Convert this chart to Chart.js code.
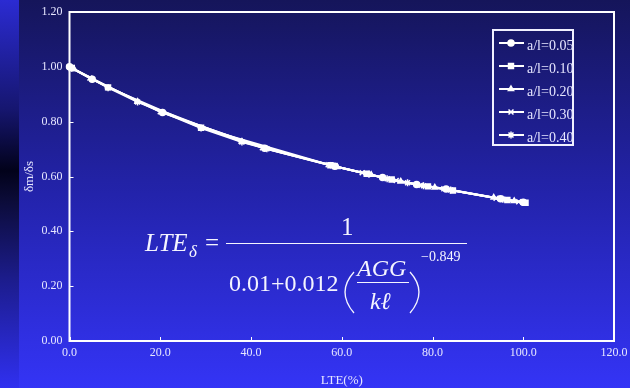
<!DOCTYPE html>
<html>
<head>
<meta charset="utf-8">
<script src="https://cdn.jsdelivr.net/npm/chart.js@4"></script>
<style>
  html, body { margin: 0; padding: 0; }
  body {
    width: 630px; height: 388px; overflow: hidden; position: relative;
    background: linear-gradient(to bottom, #15155a 0%, #2323ab 50%, #3434f6 100%);
  }
  #strip {
    position: absolute; left: 0; top: 0; width: 19px; height: 388px;
    background: linear-gradient(to bottom, #2b2bd2 0%, #161670 28%, #02021a 44%, #0c0c3a 52%, #1c1c8c 72%, #3030f0 100%);
  }
  #wrap { position: absolute; left: 0; top: 0; width: 630px; height: 388px; }
</style>
</head>
<body>
<div id="strip"></div>
<div id="wrap"><canvas id="chart" width="630" height="388"></canvas></div>
<script>
// LTE (%) and deflection ratio, one pair of arrays per a/l
const lte005 = [0.0, 5.0, 20.5, 43.0, 58.5, 69.0, 76.5, 83.0, 95.0, 100.0];
const ratio005 = [1.000, 0.955, 0.833, 0.703, 0.637, 0.596, 0.571, 0.554, 0.519, 0.506];
const lte010 = [0.5, 8.5, 29.0, 57.5, 65.5, 71.0, 79.0, 84.5, 96.5, 100.5];
const ratio010 = [0.996, 0.925, 0.778, 0.641, 0.610, 0.589, 0.564, 0.549, 0.514, 0.504];
const lte020 = [1.0, 15.0, 38.0, 59.0, 66.5, 73.0, 80.5, 93.5, 98.0];
const ratio020 = [0.992, 0.873, 0.727, 0.635, 0.606, 0.582, 0.560, 0.523, 0.511];
const lte030 = [0.0, 4.5, 20.0, 42.5, 57.0, 64.5, 72.0, 77.5, 82.5, 94.0, 99.0];
const ratio030 = [1.000, 0.959, 0.836, 0.705, 0.643, 0.614, 0.585, 0.568, 0.555, 0.521, 0.508];
const lte040 = [0.5, 8.5, 15.0, 29.0, 38.0, 43.5, 58.0, 66.0, 70.0, 74.5, 78.0, 84.0, 95.5, 100.0];
const ratio040 = [0.995, 0.924, 0.872, 0.777, 0.726, 0.701, 0.639, 0.608, 0.592, 0.577, 0.566, 0.551, 0.517, 0.505];

const seriesLabels = ['a/l=0.05', 'a/l=0.10', 'a/l=0.20', 'a/l=0.30', 'a/l=0.40'];
const seriesStyles = ['circle', 'rect', 'triangle', 'crossRot', 'star'];
const xTicks = [0, 20, 40, 60, 80, 100, 120];
const yTicks = [0, 0.2, 0.4, 0.6, 0.8, 1.0, 1.2];

const lteSets = [lte005, lte010, lte020, lte030, lte040];
const ratioSets = [ratio005, ratio010, ratio020, ratio030, ratio040];

const WHITE = '#ffffff';
const TEXT = '#e6e6ff';
const SERIF = '"Liberation Serif", "Times New Roman", serif';

const datasets = seriesLabels.map((label, i) => ({
  label: label,
  data: lteSets[i].map((x, j) => ({ x: x, y: ratioSets[i][j] })),
  showLine: true,
  borderColor: WHITE,
  backgroundColor: WHITE,
  borderWidth: 2,
  pointStyle: seriesStyles[i],
  pointRadius: seriesStyles[i] === 'circle' || seriesStyles[i] === 'triangle' ? 3 : 3.5,
  pointBorderWidth: 1.5,
  pointBackgroundColor: WHITE,
  pointBorderColor: WHITE,
  tension: 0,
  clip: false
}));

// frame + inward tick marks
const frame = {
  id: 'frame',
  afterDraw(chart) {
    const { ctx, chartArea: a, scales } = chart;
    ctx.save();
    ctx.strokeStyle = WHITE;
    ctx.lineWidth = 2;
    ctx.strokeRect(a.left, a.top, a.right - a.left, a.bottom - a.top);
    ctx.lineWidth = 1;
    ctx.beginPath();
    yTicks.forEach(v => {
      const y = Math.round(scales.y.getPixelForValue(v)) + 0.5;
      ctx.moveTo(a.left, y); ctx.lineTo(a.left + 4, y);
    });
    xTicks.forEach(v => {
      const x = Math.round(scales.x.getPixelForValue(v)) + 0.5;
      ctx.moveTo(x, a.bottom); ctx.lineTo(x, a.bottom - 4);
    });
    ctx.stroke();
    ctx.restore();
  }
};

// boxed legend inside the plot, top right
const boxLegend = {
  id: 'boxLegend',
  afterDraw(chart) {
    const { ctx } = chart;
    ctx.save();
    ctx.strokeStyle = '#f0f0ff';
    ctx.lineWidth = 2;
    ctx.strokeRect(493, 30, 80, 115);
    chart.data.datasets.forEach((ds, i) => {
      const y = 43 + i * 23;
      ctx.strokeStyle = WHITE;
      ctx.lineWidth = 2;
      ctx.beginPath();
      ctx.moveTo(499, y); ctx.lineTo(524, y);
      ctx.stroke();
      ctx.fillStyle = WHITE;
      ctx.lineWidth = 1.5;
      Chart.helpers.drawPoint(ctx, { pointStyle: ds.pointStyle, radius: ds.pointRadius, rotation: 0, borderWidth: 1.5 }, 511, y);
      ctx.fillStyle = TEXT;
      ctx.font = '14px ' + SERIF;
      ctx.textBaseline = 'middle';
      ctx.textAlign = 'left';
      ctx.fillText(ds.label, 527, y + 3);
    });
    ctx.restore();
  }
};

// the LTE formula written in the plot
const formula = {
  id: 'formula',
  afterDraw(chart) {
    const { ctx } = chart;
    ctx.save();
    ctx.fillStyle = '#f4f4ff';
    ctx.strokeStyle = '#f4f4ff';
    ctx.textBaseline = 'alphabetic';
    ctx.textAlign = 'left';
    ctx.font = 'italic 25px ' + SERIF;
    ctx.fillText('LTE', 145, 251);
    ctx.font = 'italic 17px ' + SERIF;
    ctx.fillText('δ', 189, 257);
    ctx.font = '25px ' + SERIF;
    ctx.fillText('=', 205, 251);
    ctx.lineWidth = 1.2;
    ctx.beginPath();
    ctx.moveTo(226, 243.5); ctx.lineTo(467, 243.5);
    ctx.moveTo(357, 282.5); ctx.lineTo(409, 282.5);
    ctx.stroke();
    ctx.fillText('1', 341, 235);
    ctx.font = '24px ' + SERIF;
    ctx.fillText('0.01+0.012', 229, 291);
    ctx.font = 'italic 24px ' + SERIF;
    ctx.fillText('AGG', 357, 276);
    ctx.fillText('kℓ', 370, 309);
    // brackets
    ctx.lineWidth = 1.3;
    ctx.beginPath();
    ctx.moveTo(354, 272); ctx.quadraticCurveTo(336, 292, 354, 313);
    ctx.moveTo(410, 272); ctx.quadraticCurveTo(428, 292, 410, 313);
    ctx.stroke();
    ctx.font = '14px ' + SERIF;
    ctx.fillText('−0.849', 421, 261);
    ctx.restore();
  }
};

new Chart(document.getElementById('chart'), {
  type: 'scatter',
  data: { datasets: datasets },
  options: {
    responsive: false,
    animation: false,
    layout: { padding: { top: 12, right: 16, left: 0, bottom: 0 } },
    plugins: {
      legend: { display: false },
      tooltip: { enabled: false }
    },
    scales: {
      x: {
        type: 'linear',
        min: 0, max: 120,
        afterFit(scale) {
          scale.height = 47;
          scale.paddingLeft = 0;
          scale.paddingRight = 0;
        },
        afterBuildTicks(scale) { scale.ticks = xTicks.map(v => ({ value: v })); },
        grid: { display: false, drawTicks: false },
        border: { display: false },
        ticks: {
          color: TEXT,
          font: { family: SERIF, size: 12 },
          padding: 5,
          maxRotation: 0,
          callback: v => v.toFixed(1)
        },
        title: {
          display: true, text: 'LTE(%)', color: TEXT,
          font: { family: SERIF, size: 13 },
          padding: { top: 0, bottom: 0 }
        }
      },
      y: {
        type: 'linear',
        min: 0, max: 1.2,
        afterFit(scale) {
          scale.width = 69.5;
          scale.paddingTop = 0;
          scale.paddingBottom = 0;
        },
        afterBuildTicks(scale) { scale.ticks = yTicks.map(v => ({ value: v })); },
        grid: { display: false, drawTicks: false },
        border: { display: false },
        ticks: {
          color: TEXT,
          font: { family: SERIF, size: 12 },
          padding: 7,
          callback: v => v.toFixed(2)
        },
        title: {
          display: true, text: 'δm/δs', color: TEXT,
          font: { family: SERIF, size: 13 },
          padding: { top: 22, bottom: 0 }
        }
      }
    }
  },
  plugins: [frame, boxLegend, formula]
});
</script>
</body>
</html>
